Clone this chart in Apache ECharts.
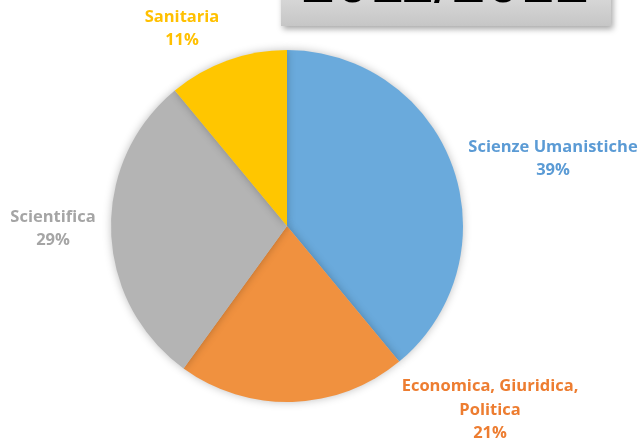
<!DOCTYPE html>
<html>
<head>
<meta charset="utf-8">
<script src="https://cdn.jsdelivr.net/npm/echarts@6/dist/echarts.min.js"></script>
<style>html,body{margin:0;padding:0;background:#fff;}#c{width:642px;height:440px;}</style>
</head>
<body>
<div id="c"></div>
<script>
const categories = ['Scienze Umanistiche', 'Economica, Giuridica,\nPolitica', 'Scientifica', 'Sanitaria'];
const values = [39, 21, 29, 11];
const colors = ['#6AAADC', '#F0913F', '#B4B4B4', '#FFC600'];
const labelColors = ['#5B9BD5', '#ED7D31', '#A5A5A5', '#FFC000'];
const titleText = '2011/2012';

const labelPos = [
  {x: 553, y: 159},
  {x: 490, y: 410},
  {x: 53, y: 229},
  {x: 182, y: 29}
];

const chart = echarts.init(document.getElementById('c'));
chart.setOption({
  backgroundColor: '#ffffff',
  animation: false,
  graphic: [
    {
      type: 'rect',
      shape: {x: 281, y: -20, width: 330, height: 46},
      style: {
        fill: new echarts.graphic.LinearGradient(0, 0, 0, 1, [
          {offset: 0, color: '#e2e2e2'},
          {offset: 1, color: '#c6c6c6'}
        ]),
        shadowBlur: 6,
        shadowOffsetY: 3,
        shadowOffsetX: 2,
        shadowColor: 'rgba(0,0,0,0.35)'
      },
      z: 10
    },
    {
      type: 'text',
      x: 445, y: -46,
      style: {
        text: titleText,
        font: '62px "Liberation Sans"',
        fill: '#000',
        textAlign: 'center',
        textVerticalAlign: 'top'
      },
      z: 11
    }
  ],
  series: [{
    type: 'pie',
    center: [287, 226],
    radius: [0, 176],
    startAngle: 90,
    clockwise: true,
    data: categories.map((c, i) => ({
      name: c, value: values[i],
      itemStyle: {color: colors[i]},
      label: {color: labelColors[i]}
    })),
    itemStyle: {
      shadowBlur: 8,
      shadowColor: 'rgba(0,0,0,0.25)',
      borderWidth: 0
    },
    label: {
      show: true,
      position: 'outside',
      formatter: p => p.name + '\n' + p.value + '%',
      fontFamily: '"Open Sans"',
      fontWeight: 'bold',
      fontSize: 16.5,
      lineHeight: 23.5,
      align: 'center',
      overflow: 'none',
      width: 300
    },
    labelLine: {show: false},
    labelLayout: function (params) {
      const p = labelPos[params.dataIndex];
      return {x: p.x, y: p.y, align: 'center', verticalAlign: 'middle'};
    },
    emphasis: {disabled: true}
  }]
});
</script>
</body>
</html>
